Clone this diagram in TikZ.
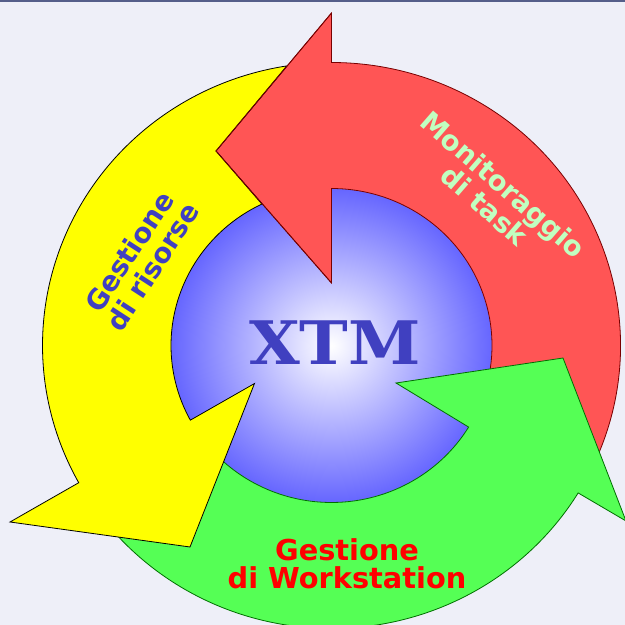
\documentclass[tikz,border=0pt]{standalone}
\usepackage{fontspec}
\setmainfont{DejaVu Sans}
\newfontfamily\serifxtm{DejaVu Serif}
\definecolor{pagebg}{RGB}{238,239,248}
\definecolor{topbar}{RGB}{85,94,138}
\definecolor{redfill}{RGB}{255,85,85}
\definecolor{greenfill}{RGB}{85,255,85}
\definecolor{yellowfill}{RGB}{255,255,0}
\definecolor{redline}{RGB}{120,0,0}
\definecolor{greenline}{RGB}{0,110,0}
\definecolor{xtmblue}{RGB}{64,64,192}
\definecolor{mintlabel}{RGB}{192,255,192}
\definecolor{purered}{RGB}{255,0,0}
\definecolor{hubedge}{RGB}{102,102,255}
\pgfdeclareradialshading{hubshade}{\pgfpoint{0bp}{0bp}}{color(0bp)=(white); color(25bp)=(hubedge); color(50bp)=(hubedge)}
\tikzset{
  arrowshape/.style={line width=0.8pt,line join=miter,miter limit=10},
  redarrow/.style={arrowshape,fill=redfill,draw=redline},
  greenarrow/.style={arrowshape,fill=greenfill,draw=greenline},
  yellowarrow/.style={arrowshape,fill=yellowfill,draw=black},
  arrowlabel/.style={font=\fontsize{27}{28}\selectfont\bfseries,align=center,inner sep=0pt},
}
\def\orad{289pt and 283pt}
\def\irad{160.5pt and 157pt}
\begin{document}
\begin{tikzpicture}[x=1pt,y=1pt]
\useasboundingbox (0,0) rectangle (625,625);
\fill[pagebg] (0,0) rectangle (625,625);
\fill[topbar] (0,623) rectangle (625,625);
\coordinate (c) at (331.5,279.5);
\clip (0,0) rectangle (625,625);
% hub
\path[shading=hubshade] (c) ellipse [x radius=160.5pt,y radius=157pt];
% red arrow
\path[redarrow] (331.5,612) -- (216,474) -- (331.5,342) -- ([shift={(90:\irad)}]c)
  arc[start angle=90,end angle=-15,x radius=160.5pt,y radius=157pt]
  -- ([shift={(-27:\orad)}]c)
  arc[start angle=-27,end angle=90,x radius=289pt,y radius=283pt] -- cycle;
% green arrow
\path[greenarrow] (563,267) -- (396,242) -- ([shift={(-31.3:\irad)}]c)
  arc[start angle=-31.3,end angle=-138,x radius=160.5pt,y radius=157pt]
  -- ([shift={(-145:\orad)}]c)
  arc[start angle=-145,end angle=-31.4,x radius=289pt,y radius=283pt]
  -- (626,104) -- cycle;
% yellow arrow
\path[yellowarrow] (216,474) -- ([shift={(98.9:\orad)}]c)
  arc[start angle=98.9,end angle=209,x radius=289pt,y radius=283pt]
  -- (10,103) -- (190,78) -- (254.5,241.5) -- ([shift={(208.4:\irad)}]c)
  arc[start angle=208.4,end angle=115.7,x radius=160.5pt,y radius=157pt] -- cycle;
% edge of the red head over the yellow arrow
\draw[arrowshape,draw=redline] (331.5,612) -- (216,474) -- (331.5,342);
% labels
\node[font=\serifxtm\fontsize{60}{62}\selectfont\bfseries,text=xtmblue,inner sep=0pt,xscale=1.09] (xtm) at (335,282.5) {XTM};
\node[arrowlabel,text=xtmblue,rotate=57,font=\fontsize{27.5}{28}\selectfont\bfseries] (risorse) at (141,366) {Gestione\\di risorse};
\node[arrowlabel,text=mintlabel,rotate=-41,font=\fontsize{27.5}{28}\selectfont\bfseries] (task) at (494,430) {Monitoraggio\\di task};
\node[arrowlabel,text=purered,font=\fontsize{28.8}{28}\selectfont\bfseries] (work) at (347,61) {Gestione\\di Workstation};
\end{tikzpicture}
\end{document}
